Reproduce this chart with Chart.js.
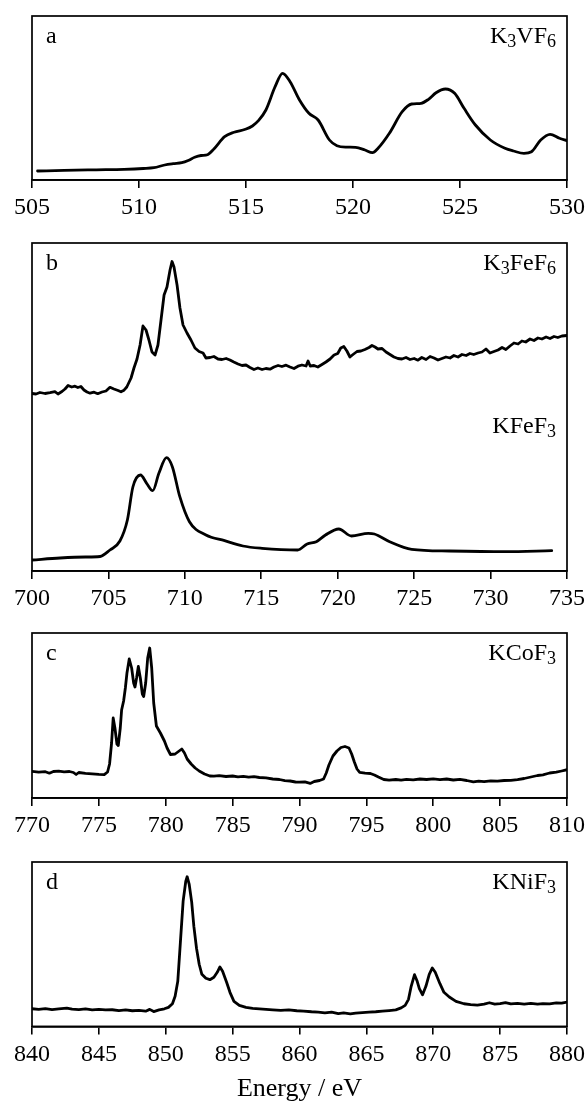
<!DOCTYPE html>
<html>
<head>
<meta charset="utf-8">
<script src="https://cdn.jsdelivr.net/npm/chart.js@4.4.1/dist/chart.umd.min.js"></script>
<style>
  html, body { margin: 0; padding: 0; background: #fff; overflow: hidden; }
  body { width: 587px; height: 1103px; position: relative; }
  canvas { position: absolute; left: 0; }
</style>
</head>
<body>
<canvas id="cA" width="587" height="214" style="top:14px"></canvas>
<canvas id="cB" width="587" height="378" style="top:241px"></canvas>
<canvas id="cC" width="587" height="215" style="top:631px"></canvas>
<canvas id="cD" width="587" height="243" style="top:860px"></canvas>
<script>
// ---------------- DATA ----------------
const panelLetters = ['a', 'b', 'c', 'd'];
const axisTitle = 'Energy / eV';
const xRanges = [[505, 530], [700, 735], [770, 810], [840, 880]];
const tickStep = 5;
const yMax = [164, 328, 165, 164];

// (a) K3VF6
const labelA = [['K'], ['3', 'sub'], ['VF'], ['6', 'sub']];
const energyA = [505.26, 506.5, 508.0, 509.3, 510.2, 510.7, 511.2, 511.6, 512.0, 512.3, 512.6, 512.9, 513.2, 513.5, 514.0, 514.44, 514.97, 515.3, 515.58, 515.93, 516.36, 516.71, 517.06, 517.5, 517.94, 518.37, 518.9, 519.25, 519.7, 520.12, 520.56, 520.91, 521.17, 521.7, 522.3, 522.74, 523.18, 523.53, 523.88, 524.32, 524.75, 525.19, 525.72, 526.42, 527.1, 527.5, 527.99, 528.34, 528.77, 529.21, 529.65, 530.0];
const intensityA = [9, 9.6, 10.2, 10.7, 11.5, 12.3, 15.0, 16.3, 17.3, 19.5, 22.7, 24.5, 25.3, 31, 43.3, 47.7, 50.7, 54, 59.3, 70, 93.3, 106.7, 98.3, 80, 66.7, 60, 40, 34.3, 32.9, 32.7, 30, 27.3, 31.7, 46.7, 68.3, 76, 76.7, 80.7, 87.3, 91, 86.7, 71.7, 55, 40, 31.7, 29, 26.7, 28.3, 40, 45.7, 41.7, 39.3];

// (b) K3FeF6 (upper) and KFeF3 (lower)
const labelB1 = [['K'], ['3', 'sub'], ['FeF'], ['6', 'sub']];
const labelB2 = [['KFeF'], ['3', 'sub']];
const energyB1 = [700.0, 700.26, 700.52, 700.85, 701.18, 701.5, 701.7, 701.96, 702.16, 702.36, 702.6, 702.81, 703.0, 703.2, 703.4, 703.6, 703.8, 704.06, 704.3, 704.58, 704.84, 705.1, 705.36, 705.63, 705.82, 706.02, 706.2, 706.48, 706.67, 706.87, 707.07, 707.26, 707.46, 707.65, 707.85, 708.05, 708.24, 708.44, 708.64, 708.83, 709.03, 709.16, 709.29, 709.49, 709.68, 709.88, 710.14, 710.4, 710.66, 710.93, 711.19, 711.38, 711.65, 711.9, 712.17, 712.43, 712.7, 712.95, 713.2, 713.48, 713.74, 714.0, 714.26, 714.52, 714.78, 715.05, 715.3, 715.57, 715.83, 716.1, 716.35, 716.62, 716.88, 717.14, 717.4, 717.66, 717.93, 718.06, 718.2, 718.45, 718.7, 718.97, 719.23, 719.5, 719.76, 720.0, 720.2, 720.4, 720.6, 720.8, 721.0, 721.26, 721.52, 721.78, 722.05, 722.24, 722.44, 722.63, 722.9, 723.16, 723.42, 723.68, 723.94, 724.2, 724.47, 724.73, 725.0, 725.25, 725.5, 725.78, 726.04, 726.3, 726.56, 726.82, 727.08, 727.35, 727.6, 727.87, 728.13, 728.4, 728.65, 728.9, 729.18, 729.44, 729.7, 729.96, 730.22, 730.49, 730.75, 731.0, 731.27, 731.53, 731.8, 732.05, 732.3, 732.58, 732.84, 733.1, 733.36, 733.63, 733.89, 734.15, 734.4, 734.67, 735.0];
const intensityB1 = [177.5, 177, 178.5, 177.5, 178.3, 179.3, 177, 179.5, 182, 185.5, 184, 184.8, 183.5, 184.5, 181, 179, 177.8, 178.8, 177.3, 179, 180, 183.7, 182, 180.5, 179.2, 180.8, 184, 193, 203, 212, 226, 245, 241, 231, 219, 216, 226, 251, 276, 284, 301, 309.5, 304, 286, 263, 246, 238, 231, 223, 219.5, 218, 213, 213.5, 214.5, 212, 211.5, 212.5, 211, 209, 207, 205.5, 206, 203.5, 201.5, 203, 201.5, 202.5, 201.8, 204, 205.5, 204.5, 205.8, 204, 202.5, 204.8, 206, 205, 210, 205, 205.5, 204, 206.5, 209, 212, 216, 217.5, 223, 224.5, 220, 214, 216.5, 219.5, 220, 221.5, 223.5, 225.5, 224, 222, 222.5, 219, 216.5, 214, 212.5, 212, 213.5, 211.5, 212.5, 210.8, 213.5, 211.5, 214.5, 213, 211, 212.5, 214, 213, 215.5, 214, 216.5, 215.5, 217.5, 216.5, 218, 219, 222, 218, 219.5, 221, 223.5, 221.5, 225, 228, 227, 230, 229, 232, 230.5, 233, 232, 234, 232.5, 234.5, 233.5, 235, 235.5];
const energyB2 = [700.0, 701.84, 703.5, 704.45, 705.1, 705.75, 706.24, 706.6, 707.1, 707.5, 707.9, 708.3, 708.8, 709.18, 709.67, 710.3, 711.38, 712.6, 713.8, 715.05, 717.38, 718.0, 718.6, 719.2, 720.07, 720.9, 722.0, 722.4, 723.4, 724.84, 727.3, 730.96, 734.0];
const intensityB2 = [11, 13, 14, 14.5, 21, 30, 51, 84, 96, 87.7, 80.3, 97.7, 113.3, 104.3, 74.3, 49.3, 36, 30.3, 25, 22.7, 21, 27, 29.3, 36, 42, 35, 37.7, 37, 29.3, 21.7, 20, 19.3, 20.3];

// (c) KCoF3
const labelC = [['KCoF'], ['3', 'sub']];
const energyC = [770.0, 770.5, 771.0, 771.3, 771.6, 772.0, 772.4, 772.8, 773.1, 773.3, 773.5, 774.0, 774.5, 775.0, 775.4, 775.65, 775.8, 775.95, 776.07, 776.2, 776.35, 776.45, 776.6, 776.7, 776.85, 776.98, 777.1, 777.27, 777.45, 777.6, 777.7, 777.82, 777.95, 778.1, 778.25, 778.35, 778.5, 778.65, 778.8, 778.95, 779.1, 779.3, 779.6, 779.9, 780.1, 780.35, 780.7, 781.0, 781.2, 781.4, 781.6, 781.9, 782.2, 782.5, 782.9, 783.3, 783.6, 784.0, 784.5, 785.0, 785.4, 785.8, 786.2, 786.6, 787.0, 787.5, 788.0, 788.5, 788.9, 789.3, 789.7, 790.0, 790.4, 790.8, 791.1, 791.5, 791.8, 792.0, 792.2, 792.5, 792.8, 793.1, 793.4, 793.7, 793.9, 794.1, 794.3, 794.5, 794.9, 795.3, 795.6, 795.9, 796.3, 796.7, 797.2, 797.6, 798.0, 798.5, 799.0, 799.5, 800.0, 800.5, 801.0, 801.5, 802.0, 802.5, 803.0, 803.4, 803.8, 804.3, 804.8, 805.3, 805.8, 806.3, 806.8, 807.3, 807.8, 808.2, 808.7, 809.2, 809.6, 810.0];
const intensityC = [26.6, 25.8, 26.3, 24.8, 26.5, 26.8, 26.2, 26.5, 25.5, 23.5, 25.5, 24.6, 24.2, 23.6, 23.3, 26, 34, 55, 80, 70, 54, 52.5, 70, 88, 97, 110, 125, 139, 130, 115, 111, 120, 131.5, 120, 104, 101.5, 115, 140, 150, 130, 95, 72, 65, 57, 50, 43.5, 44, 47, 49, 45, 39, 34, 30, 27, 24, 22, 21.8, 22.3, 21.5, 22, 21.2, 21.6, 20.8, 21.3, 20.5, 20.2, 19, 18.5, 17.4, 17, 16, 15.8, 16.2, 14.6, 16.5, 17.5, 19, 25, 33, 42, 47, 50.5, 51.5, 50, 44, 36, 29, 25.6, 24.8, 24.5, 23, 21, 18.5, 17.8, 18.5, 17.8, 18.6, 18.2, 19, 18.5, 19.2, 18.4, 19, 18, 18.6, 17.5, 16.2, 16.8, 16.4, 17.2, 16.8, 17.5, 17.6, 18.4, 19.5, 21, 22.5, 23.2, 25, 25.8, 27, 28.3];

// (d) KNiF3
const labelD = [['KNiF'], ['3', 'sub']];
const energyD = [840.0, 840.5, 841.0, 841.5, 842.0, 842.6, 843.0, 843.5, 844.0, 844.5, 845.0, 845.5, 846.0, 846.5, 847.0, 847.5, 848.0, 848.5, 848.8, 849.1, 849.5, 849.9, 850.2, 850.5, 850.7, 850.9, 851.1, 851.3, 851.5, 851.6, 851.75, 851.94, 852.1, 852.3, 852.5, 852.7, 853.0, 853.3, 853.6, 853.85, 854.05, 854.25, 854.55, 854.8, 855.1, 855.5, 856.0, 856.5, 857.0, 857.5, 858.0, 858.6, 859.2, 859.8, 860.3, 860.9, 861.4, 861.9, 862.4, 862.9, 863.3, 863.8, 864.2, 864.7, 865.2, 865.7, 866.2, 866.7, 867.2, 867.6, 867.9, 868.15, 868.35, 868.6, 868.8, 868.96, 869.2, 869.45, 869.7, 869.93, 870.15, 870.5, 870.8, 871.2, 871.7, 872.3, 872.8, 873.3, 873.8, 874.2, 874.6, 875.0, 875.4, 875.8, 876.3, 876.8, 877.3, 877.8, 878.2, 878.7, 879.2, 879.6, 880.0];
const intensityD = [17.6, 17.0, 17.8, 16.8, 17.5, 18.2, 17.2, 16.8, 17.4, 16.5, 17, 16.4, 16.6, 15.8, 16.4, 15.6, 15.9, 15.2, 17, 14.8, 16.5, 17.6, 19, 22.6, 30, 45, 85, 125, 145, 149.3, 142, 124, 100, 78, 62, 52, 48, 46.6, 49, 54, 59.3, 55, 44, 34, 25, 21, 19, 18, 17.5, 17, 16.5, 16, 16.4, 15.6, 15.3, 14.6, 14.3, 13.5, 14.2, 12.8, 13.4, 12.6, 13.3, 13.8, 14.2, 14.6, 15.2, 15.8, 16.5, 18.5, 21, 27, 40, 51.6, 45, 37.6, 31.6, 40, 52, 58.3, 54, 42.6, 34, 29.3, 25, 22.6, 21.8, 21.2, 22.2, 23.6, 22.3, 22.8, 23.8, 22.4, 22.9, 22.2, 23, 22.3, 22.8, 22.5, 23.4, 23.2, 24.3];

// ---------------- RENDERING ----------------
const SERIF = '"Liberation Serif", "Times New Roman", serif';
function toPoints(xs, ys) { return xs.map((x, i) => ({ x: x, y: ys[i] })); }

const framePlugin = {
  id: 'frame',
  afterDraw(chart) {
    const { ctx, chartArea: a } = chart;
    ctx.save();
    ctx.strokeStyle = '#000';
    ctx.lineWidth = 1.7;
    ctx.strokeRect(a.left, a.top, a.right - a.left, a.bottom - a.top);
    ctx.restore();
  }
};

function drawRich(ctx, parts, x, y, align, size) {
  const subSize = Math.round(size * 0.75);
  const widths = parts.map(p => {
    ctx.font = (p[1] === 'sub' ? subSize : size) + 'px ' + SERIF;
    return ctx.measureText(p[0]).width;
  });
  const total = widths.reduce((s, w) => s + w, 0);
  let cx = align === 'right' ? x - total : x;
  parts.forEach((p, i) => {
    const sub = p[1] === 'sub';
    ctx.font = (sub ? subSize : size) + 'px ' + SERIF;
    ctx.fillText(p[0], cx, sub ? y + 4 : y);
    cx += widths[i];
  });
}

const textPlugin = {
  id: 'panelText',
  afterDraw(chart, args, opts) {
    const { ctx, chartArea: a } = chart;
    ctx.save();
    ctx.fillStyle = '#000';
    ctx.textBaseline = 'alphabetic';
    ctx.textAlign = 'left';
    ctx.font = '24px ' + SERIF;
    ctx.fillText(opts.letter, a.left + 14, a.top + 27);
    (opts.labels || []).forEach(l => {
      drawRich(ctx, l.parts, a.right - 11, a.top + l.dy, 'right', 24);
    });
    ctx.restore();
  }
};

function makeChart(id, idx, datasets, labels, withTitle) {
  const [xmin, xmax] = xRanges[idx];
  return new Chart(document.getElementById(id), {
    type: 'line',
    data: { datasets: datasets },
    options: {
      responsive: false,
      animation: false,
      events: [],
      layout: { padding: { left: 32, right: 20, top: 2, bottom: 0 } },
      elements: {
        point: { radius: 0 },
        line: { borderColor: '#000', borderWidth: 2.8, fill: false, borderJoinStyle: 'round', borderCapStyle: 'round' }
      },
      plugins: {
        legend: { display: false },
        tooltip: { enabled: false },
        panelText: { letter: panelLetters[idx], labels: labels }
      },
      scales: {
        x: {
          type: 'linear',
          min: xmin,
          max: xmax,
          position: 'bottom',
          afterFit(scale) { scale.paddingLeft = 0; scale.paddingRight = 0; },
          ticks: {
            stepSize: tickStep,
            autoSkip: false,
            maxRotation: 0,
            padding: 5,
            color: '#000',
            font: { family: SERIF, size: 24, lineHeight: 1.25 }
          },
          grid: { drawOnChartArea: false, drawTicks: true, tickLength: 8, color: '#000', lineWidth: 1.6 },
          border: { display: true, color: '#000', width: 1.7 },
          title: withTitle ? {
            display: true,
            text: axisTitle,
            color: '#000',
            padding: { top: 0, bottom: 0 },
            font: { family: SERIF, size: 26, lineHeight: 1.1 }
          } : { display: false }
        },
        y: { display: false, min: 0, max: yMax[idx] }
      }
    },
    plugins: [framePlugin, textPlugin]
  });
}

const ds = (xs, ys, smooth) => ({
  data: toPoints(xs, ys),
  cubicInterpolationMode: smooth ? 'monotone' : 'default',
  tension: 0
});

makeChart('cA', 0, [ds(energyA, intensityA, true)], [{ parts: labelA, dy: 27 }], false);
makeChart('cB', 1, [ds(energyB1, intensityB1, false), ds(energyB2, intensityB2, true)],
  [{ parts: labelB1, dy: 27 }, { parts: labelB2, dy: 190 }], false);
makeChart('cC', 2, [ds(energyC, intensityC, false)], [{ parts: labelC, dy: 27 }], false);
makeChart('cD', 3, [ds(energyD, intensityD, false)], [{ parts: labelD, dy: 27 }], true);
</script>
</body>
</html>
